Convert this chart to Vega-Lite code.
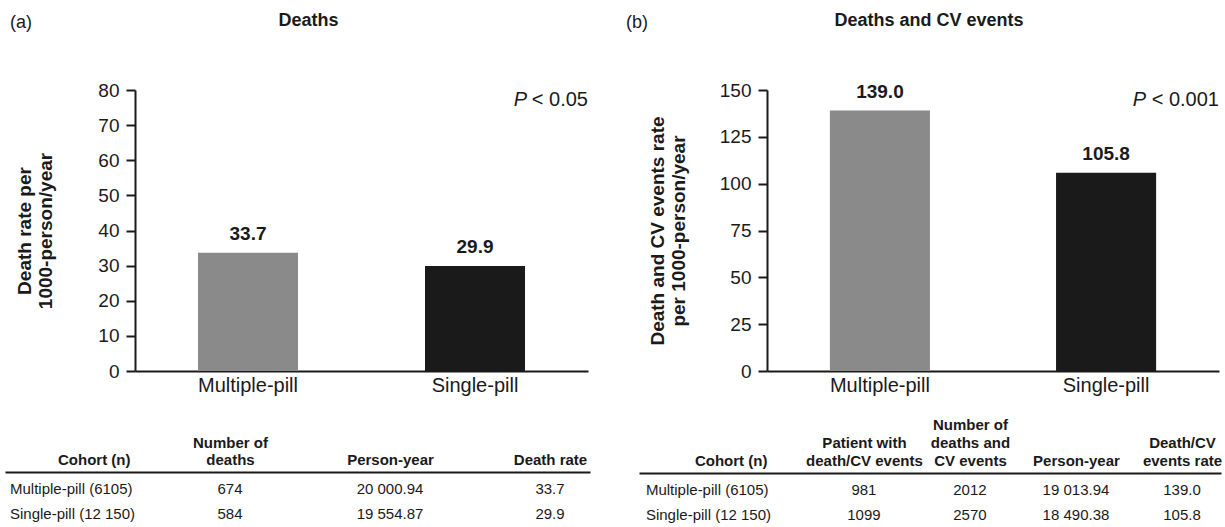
{
  "$schema": "https://vega.github.io/schema/vega-lite/v6.json",
  "background": "white",
  "padding": {"left": 9, "top": 12, "right": 0, "bottom": 0},
  "spacing": -94,
  "config": {
    "view": {"stroke": null},
    "font": "Liberation Sans",
    "axis": {"domainColor": "#1a1a1a", "tickColor": "#1a1a1a", "labelColor": "#1a1a1a", "titleColor": "#1a1a1a", "grid": false},
    "title": {"color": "#1a1a1a", "font": "Liberation Sans"},
    "text": {"color": "#1a1a1a", "font": "Liberation Sans"}
  },
  "hconcat": [
    {
      "title": {"text": "(a)", "anchor": "start", "frame": "group", "fontSize": 18, "fontWeight": "normal", "offset": -20, "dx": -125},
      "spacing": 40,
      "vconcat": [
        {
          "title": {"text": "Deaths", "fontSize": 18, "fontWeight": "bold", "anchor": "middle", "offset": 51, "dx": -53},
          "width": 453,
          "height": 281,
          "layer": [
            {
              "data": {"values": [{"cohort": "Multiple-pill", "rate": 33.7}, {"cohort": "Single-pill", "rate": 29.9}]},
              "mark": {"type": "bar"},
              "encoding": {
                "x": {"field": "cohort", "type": "nominal", "sort": ["Multiple-pill", "Single-pill"], "scale": {"paddingInner": 0.5595, "paddingOuter": 0.2775},
                  "axis": {"title": null, "labelAngle": 0, "ticks": false, "tickSize": 0, "domainWidth": 2, "labelFontSize": 20, "labelPadding": 4}},
                "y": {"field": "rate", "type": "quantitative", "scale": {"domain": [0, 80], "nice": false},
                  "axis": {"title": ["Death rate per", "1000-person/year"], "values": [0, 10, 20, 30, 40, 50, 60, 70, 80], "labelOverlap": false, "tickSize": 9, "tickWidth": 2, "domainWidth": 2, "labelFontSize": 19, "labelPadding": 7, "titleFontSize": 19, "titleFontWeight": "bold", "titleLineHeight": 21, "titlePadding": 42}},
                "color": {"field": "cohort", "type": "nominal", "scale": {"domain": ["Multiple-pill", "Single-pill"], "range": ["#8a8a8a", "#1a1a1a"]}, "legend": null}
              }
            },
            {
              "data": {"values": [{"cohort": "Multiple-pill", "rate": 33.7}, {"cohort": "Single-pill", "rate": 29.9}]},
              "mark": {"type": "text", "fontSize": 19, "fontWeight": "bold", "baseline": "alphabetic", "dy": -13},
              "encoding": {
                "x": {"field": "cohort", "type": "nominal", "sort": ["Multiple-pill", "Single-pill"]},
                "y": {"field": "rate", "type": "quantitative",
                  "axis": {"title": ["Death rate per", "1000-person/year"], "values": [0, 10, 20, 30, 40, 50, 60, 70, 80], "labelOverlap": false, "tickSize": 9, "tickWidth": 2, "domainWidth": 2, "labelFontSize": 19, "labelPadding": 7, "titleFontSize": 19, "titleFontWeight": "bold", "titleLineHeight": 21, "titlePadding": 42}},
                "text": {"field": "rate", "type": "quantitative", "format": ".1f"}
              }
            },
            {
              "data": {"values": [{"p": "P", "rest": "< 0.05"}]},
              "mark": {"type": "text", "fontSize": 20, "align": "right", "baseline": "top"},
              "encoding": {"x": {"value": "width"},
                "y": {"datum": 80, "type": "quantitative",
                  "axis": {"title": ["Death rate per", "1000-person/year"], "values": [0, 10, 20, 30, 40, 50, 60, 70, 80], "labelOverlap": false, "tickSize": 9, "tickWidth": 2, "domainWidth": 2, "labelFontSize": 19, "labelPadding": 7, "titleFontSize": 19, "titleFontWeight": "bold", "titleLineHeight": 21, "titlePadding": 42}},
                "text": {"field": "rest"}}
            },
            {
              "data": {"values": [{"p": "P", "rest": "< 0.05"}]},
              "mark": {"type": "text", "fontSize": 20, "fontStyle": "italic", "align": "right", "baseline": "top", "dx": -61},
              "encoding": {"x": {"value": "width"},
                "y": {"datum": 80, "type": "quantitative",
                  "axis": {"title": ["Death rate per", "1000-person/year"], "values": [0, 10, 20, 30, 40, 50, 60, 70, 80], "labelOverlap": false, "tickSize": 9, "tickWidth": 2, "domainWidth": 2, "labelFontSize": 19, "labelPadding": 7, "titleFontSize": 19, "titleFontWeight": "bold", "titleLineHeight": 21, "titlePadding": 42}},
                "text": {"field": "p"}}
            }
          ]
        },
        {
          "width": 453,
          "height": 50,
          "data": {"values": [
            {"col": "Cohort (n)", "row": "Multiple-pill", "v": "Multiple-pill (6105)"},
            {"col": "Number of|deaths", "row": "Multiple-pill", "v": "674"},
            {"col": "Person-year", "row": "Multiple-pill", "v": "20 000.94"},
            {"col": "Death rate", "row": "Multiple-pill", "v": "33.7"},
            {"col": "Cohort (n)", "row": "Single-pill", "v": "Single-pill (12 150)"},
            {"col": "Number of|deaths", "row": "Single-pill", "v": "584"},
            {"col": "Person-year", "row": "Single-pill", "v": "19 554.87"},
            {"col": "Death rate", "row": "Single-pill", "v": "29.9"}
          ]},
          "encoding": {
            "x": {"field": "col", "type": "nominal", "sort": ["Cohort (n)", "Number of|deaths", "Person-year", "Death rate"],
              "scale": {"type": "point", "range": [-130, 455], "padding": 0.328, "align": 0.619},
              "axis": {"orient": "top", "title": null, "ticks": false, "tickSize": 0, "domainWidth": 2, "labelAngle": 0, "labelFontSize": 15, "labelFontWeight": "bold", "labelLineHeight": 17, "labelOverlap": false, "labelFlush": false,
                "labelExpr": "split(datum.label, '|')",
                "labelPadding": {"condition": {"test": "length(split(datum.value, '|')) == 2", "value": 22}, "value": 5},
                "labelAlign": {"condition": {"test": "datum.value == 'Cohort (n)'", "value": "right"}, "value": "center"},
                "labelOffset": {"condition": {"test": "datum.value == 'Cohort (n)'", "value": 60}, "value": 0}}},
            "y": {"field": "row", "type": "nominal", "sort": ["Multiple-pill", "Single-pill"], "scale": {"type": "point", "padding": 0.5, "align": 0.68}, "axis": null}
          },
          "layer": [
            {"transform": [{"filter": "datum.col == 'Cohort (n)'"}], "mark": {"type": "text", "align": "left", "dx": -60, "fontSize": 15}, "encoding": {"text": {"field": "v"}}},
            {"transform": [{"filter": "datum.col != 'Cohort (n)'"}], "mark": {"type": "text", "align": "center", "fontSize": 15}, "encoding": {"text": {"field": "v"}}}
          ]
        }
      ]
    },
    {
      "title": {"text": "(b)", "anchor": "start", "frame": "group", "fontSize": 18, "fontWeight": "normal", "offset": -20, "dx": -141},
      "spacing": 22,
      "vconcat": [
        {
          "title": {"text": "Deaths and CV events", "fontSize": 18, "fontWeight": "bold", "anchor": "middle", "offset": 51, "dx": -64},
          "width": 452,
          "height": 281,
          "layer": [
            {
              "data": {"values": [{"cohort": "Multiple-pill", "rate": 139.0}, {"cohort": "Single-pill", "rate": 105.8}]},
              "mark": {"type": "bar"},
              "encoding": {
                "x": {"field": "cohort", "type": "nominal", "sort": ["Multiple-pill", "Single-pill"], "scale": {"paddingInner": 0.5575, "paddingOuter": 0.278},
                  "axis": {"title": null, "labelAngle": 0, "ticks": false, "tickSize": 0, "domainWidth": 2, "labelFontSize": 20, "labelPadding": 4}},
                "y": {"field": "rate", "type": "quantitative", "scale": {"domain": [0, 150], "nice": false},
                  "axis": {"title": ["Death and CV events rate", "per 1000-person/year"], "values": [0, 25, 50, 75, 100, 125, 150], "labelOverlap": false, "tickSize": 9, "tickWidth": 2, "domainWidth": 2, "labelFontSize": 19, "labelPadding": 7, "titleFontSize": 19, "titleFontWeight": "bold", "titleLineHeight": 21, "titlePadding": 31}},
                "color": {"field": "cohort", "type": "nominal", "scale": {"domain": ["Multiple-pill", "Single-pill"], "range": ["#8a8a8a", "#1a1a1a"]}, "legend": null}
              }
            },
            {
              "data": {"values": [{"cohort": "Multiple-pill", "rate": 139.0}, {"cohort": "Single-pill", "rate": 105.8}]},
              "mark": {"type": "text", "fontSize": 19, "fontWeight": "bold", "baseline": "alphabetic", "dy": -13},
              "encoding": {
                "x": {"field": "cohort", "type": "nominal", "sort": ["Multiple-pill", "Single-pill"]},
                "y": {"field": "rate", "type": "quantitative",
                  "axis": {"title": ["Death and CV events rate", "per 1000-person/year"], "values": [0, 25, 50, 75, 100, 125, 150], "labelOverlap": false, "tickSize": 9, "tickWidth": 2, "domainWidth": 2, "labelFontSize": 19, "labelPadding": 7, "titleFontSize": 19, "titleFontWeight": "bold", "titleLineHeight": 21, "titlePadding": 31}},
                "text": {"field": "rate", "type": "quantitative", "format": ".1f"}
              }
            },
            {
              "data": {"values": [{"p": "P", "rest": "< 0.001"}]},
              "mark": {"type": "text", "fontSize": 20, "align": "right", "baseline": "top"},
              "encoding": {"x": {"value": "width"},
                "y": {"datum": 150, "type": "quantitative",
                  "axis": {"title": ["Death and CV events rate", "per 1000-person/year"], "values": [0, 25, 50, 75, 100, 125, 150], "labelOverlap": false, "tickSize": 9, "tickWidth": 2, "domainWidth": 2, "labelFontSize": 19, "labelPadding": 7, "titleFontSize": 19, "titleFontWeight": "bold", "titleLineHeight": 21, "titlePadding": 31}},
                "text": {"field": "rest"}}
            },
            {
              "data": {"values": [{"p": "P", "rest": "< 0.001"}]},
              "mark": {"type": "text", "fontSize": 20, "fontStyle": "italic", "align": "right", "baseline": "top", "dx": -73},
              "encoding": {"x": {"value": "width"},
                "y": {"datum": 150, "type": "quantitative",
                  "axis": {"title": ["Death and CV events rate", "per 1000-person/year"], "values": [0, 25, 50, 75, 100, 125, 150], "labelOverlap": false, "tickSize": 9, "tickWidth": 2, "domainWidth": 2, "labelFontSize": 19, "labelPadding": 7, "titleFontSize": 19, "titleFontWeight": "bold", "titleLineHeight": 21, "titlePadding": 31}},
                "text": {"field": "p"}}
            }
          ]
        },
        {
          "width": 452,
          "height": 50,
          "data": {"values": [
            {"col": "Cohort (n)", "row": "Multiple-pill", "v": "Multiple-pill (6105)"},
            {"col": "Patient with|death/CV events", "row": "Multiple-pill", "v": "981"},
            {"col": "Number of|deaths and|CV events", "row": "Multiple-pill", "v": "2012"},
            {"col": "Person-year", "row": "Multiple-pill", "v": "19 013.94"},
            {"col": "Death/CV|events rate", "row": "Multiple-pill", "v": "139.0"},
            {"col": "Cohort (n)", "row": "Single-pill", "v": "Single-pill (12 150)"},
            {"col": "Patient with|death/CV events", "row": "Single-pill", "v": "1099"},
            {"col": "Number of|deaths and|CV events", "row": "Single-pill", "v": "2570"},
            {"col": "Person-year", "row": "Single-pill", "v": "18 490.38"},
            {"col": "Death/CV|events rate", "row": "Single-pill", "v": "105.8"}
          ]},
          "encoding": {
            "x": {"field": "col", "type": "nominal", "sort": ["Cohort (n)", "Patient with|death/CV events", "Number of|deaths and|CV events", "Person-year", "Death/CV|events rate"],
              "scale": {"type": "point", "range": [-128, 454], "padding": 0.745, "align": 0.753},
              "axis": {"orient": "top", "title": null, "ticks": false, "tickSize": 0, "domainWidth": 2, "labelAngle": 0, "labelFontSize": 15, "labelFontWeight": "bold", "labelLineHeight": 18, "labelOverlap": false, "labelFlush": false,
                "labelExpr": "split(datum.label, '|')",
                "labelPadding": {"condition": [{"test": "length(split(datum.value, '|')) == 3", "value": 41}, {"test": "length(split(datum.value, '|')) == 2", "value": 23}], "value": 5},
                "labelAlign": {"condition": {"test": "datum.value == 'Cohort (n)'", "value": "right"}, "value": "center"},
                "labelOffset": {"condition": {"test": "datum.value == 'Cohort (n)'", "value": 9}, "value": 0}}},
            "y": {"field": "row", "type": "nominal", "sort": ["Multiple-pill", "Single-pill"], "scale": {"type": "point", "padding": 0.5, "align": 0.68}, "axis": null}
          },
          "layer": [
            {"transform": [{"filter": "datum.col == 'Cohort (n)'"}], "mark": {"type": "text", "align": "left", "dx": -112, "fontSize": 15}, "encoding": {"text": {"field": "v"}}},
            {"transform": [{"filter": "datum.col != 'Cohort (n)'"}], "mark": {"type": "text", "align": "center", "fontSize": 15}, "encoding": {"text": {"field": "v"}}}
          ]
        }
      ]
    }
  ]
}
